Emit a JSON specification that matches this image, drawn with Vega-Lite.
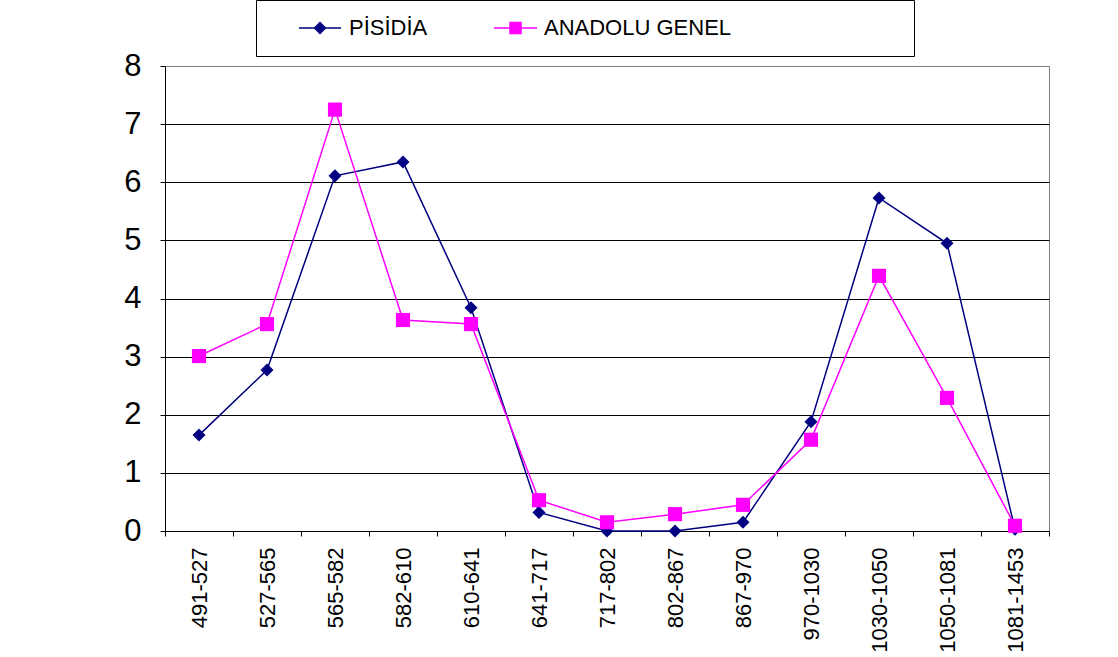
{
  "$schema": "https://vega.github.io/schema/vega-lite/v6.json",
  "width": 884,
  "height": 465,
  "autosize": {"type": "none"},
  "padding": {"left": 165, "top": 66, "right": 69, "bottom": 126},
  "background": "white",
  "config": {
    "font": "Liberation Sans",
    "view": {"stroke": "#808080", "strokeWidth": 1}
  },
  "data": {
    "values": [
      {"period": "491-527", "series": "PİSİDİA", "value": 1.65},
      {"period": "527-565", "series": "PİSİDİA", "value": 2.77},
      {"period": "565-582", "series": "PİSİDİA", "value": 6.11},
      {"period": "582-610", "series": "PİSİDİA", "value": 6.35},
      {"period": "610-641", "series": "PİSİDİA", "value": 3.84},
      {"period": "641-717", "series": "PİSİDİA", "value": 0.32},
      {"period": "717-802", "series": "PİSİDİA", "value": 0.0},
      {"period": "802-867", "series": "PİSİDİA", "value": 0.0},
      {"period": "867-970", "series": "PİSİDİA", "value": 0.15},
      {"period": "970-1030", "series": "PİSİDİA", "value": 1.88},
      {"period": "1030-1050", "series": "PİSİDİA", "value": 5.73},
      {"period": "1050-1081", "series": "PİSİDİA", "value": 4.95},
      {"period": "1081-1453", "series": "PİSİDİA", "value": 0.03},
      {"period": "491-527", "series": "ANADOLU GENEL", "value": 3.01},
      {"period": "527-565", "series": "ANADOLU GENEL", "value": 3.56},
      {"period": "565-582", "series": "ANADOLU GENEL", "value": 7.25},
      {"period": "582-610", "series": "ANADOLU GENEL", "value": 3.63},
      {"period": "610-641", "series": "ANADOLU GENEL", "value": 3.56},
      {"period": "641-717", "series": "ANADOLU GENEL", "value": 0.53},
      {"period": "717-802", "series": "ANADOLU GENEL", "value": 0.15},
      {"period": "802-867", "series": "ANADOLU GENEL", "value": 0.29},
      {"period": "867-970", "series": "ANADOLU GENEL", "value": 0.45},
      {"period": "970-1030", "series": "ANADOLU GENEL", "value": 1.57},
      {"period": "1030-1050", "series": "ANADOLU GENEL", "value": 4.39},
      {"period": "1050-1081", "series": "ANADOLU GENEL", "value": 2.29},
      {"period": "1081-1453", "series": "ANADOLU GENEL", "value": 0.09}
    ]
  },
  "encoding": {
    "x": {
      "field": "period",
      "type": "ordinal",
      "sort": null,
      "scale": {"type": "band", "paddingInner": 0, "paddingOuter": 0},
      "axis": {
        "title": null,
        "labelAngle": 270,
        "labelFontSize": 22,
        "labelColor": "black",
        "labelPadding": 11,
        "tickBand": "extent",
        "tickColor": "black",
        "tickSize": 5,
        "domainColor": "black",
        "grid": false
      }
    },
    "y": {
      "field": "value",
      "type": "quantitative",
      "scale": {"domain": [0, 8], "nice": false},
      "axis": {
        "title": null,
        "values": [0, 1, 2, 3, 4, 5, 6, 7, 8],
        "labelFontSize": 31,
        "labelColor": "black",
        "labelPadding": 19,
        "tickColor": "black",
        "tickSize": 5,
        "domainColor": "black",
        "grid": true,
        "gridColor": {"condition": {"test": "datum.value == 8", "value": "#808080"}, "value": "black"},
        "gridOpacity": 1
      }
    },
    "color": {
      "field": "series",
      "type": "nominal",
      "sort": ["PİSİDİA", "ANADOLU GENEL"],
      "scale": {"domain": ["PİSİDİA", "ANADOLU GENEL"], "range": ["#000080", "#FF00FF"]},
      "legend": {
        "title": "\u00a0",
        "titleOrient": "right",
        "titlePadding": 166,
        "orient": "none",
        "legendX": 91,
        "legendY": -66,
        "direction": "horizontal",
        "strokeColor": "black",
        "fillColor": "white",
        "padding": 17,
        "labelFontSize": 22,
        "labelLimit": 400,
        "labelColor": "black",
        "labelOffset": 54,
        "columnPadding": 40,
        "symbolType": "M1.5,0H5.7M3.05,0L3.6,-0.55L4.15,0L3.6,0.55Z",
        "symbolSize": 400,
        "symbolStrokeWidth": 1.5,
        "encode": {
          "symbols": {
            "update": {
              "shape": {"signal": "datum.value == 'PİSİDİA' ? 'M1.5,0H5.7M3.05,0L3.6,-0.55L4.15,0L3.6,0.55Z' : 'M1.5,0H5.8M3.1,-0.55H4.2V0.55H3.1Z'"},
              "fill": {"signal": "datum.value == 'PİSİDİA' ? '#000080' : '#FF00FF'"},
              "stroke": {"signal": "datum.value == 'PİSİDİA' ? '#000080' : '#FF00FF'"}
            }
          }
        }
      }
    }
  },
  "layer": [
    {
      "mark": {"type": "line", "strokeWidth": 1.5}
    },
    {
      "transform": [{"filter": "datum.series == 'PİSİDİA'"}],
      "mark": {"type": "point", "shape": "diamond", "filled": true, "size": 170, "opacity": 1}
    },
    {
      "transform": [{"filter": "datum.series == 'ANADOLU GENEL'"}],
      "mark": {"type": "point", "shape": "square", "filled": true, "size": 200, "opacity": 1}
    }
  ]
}
